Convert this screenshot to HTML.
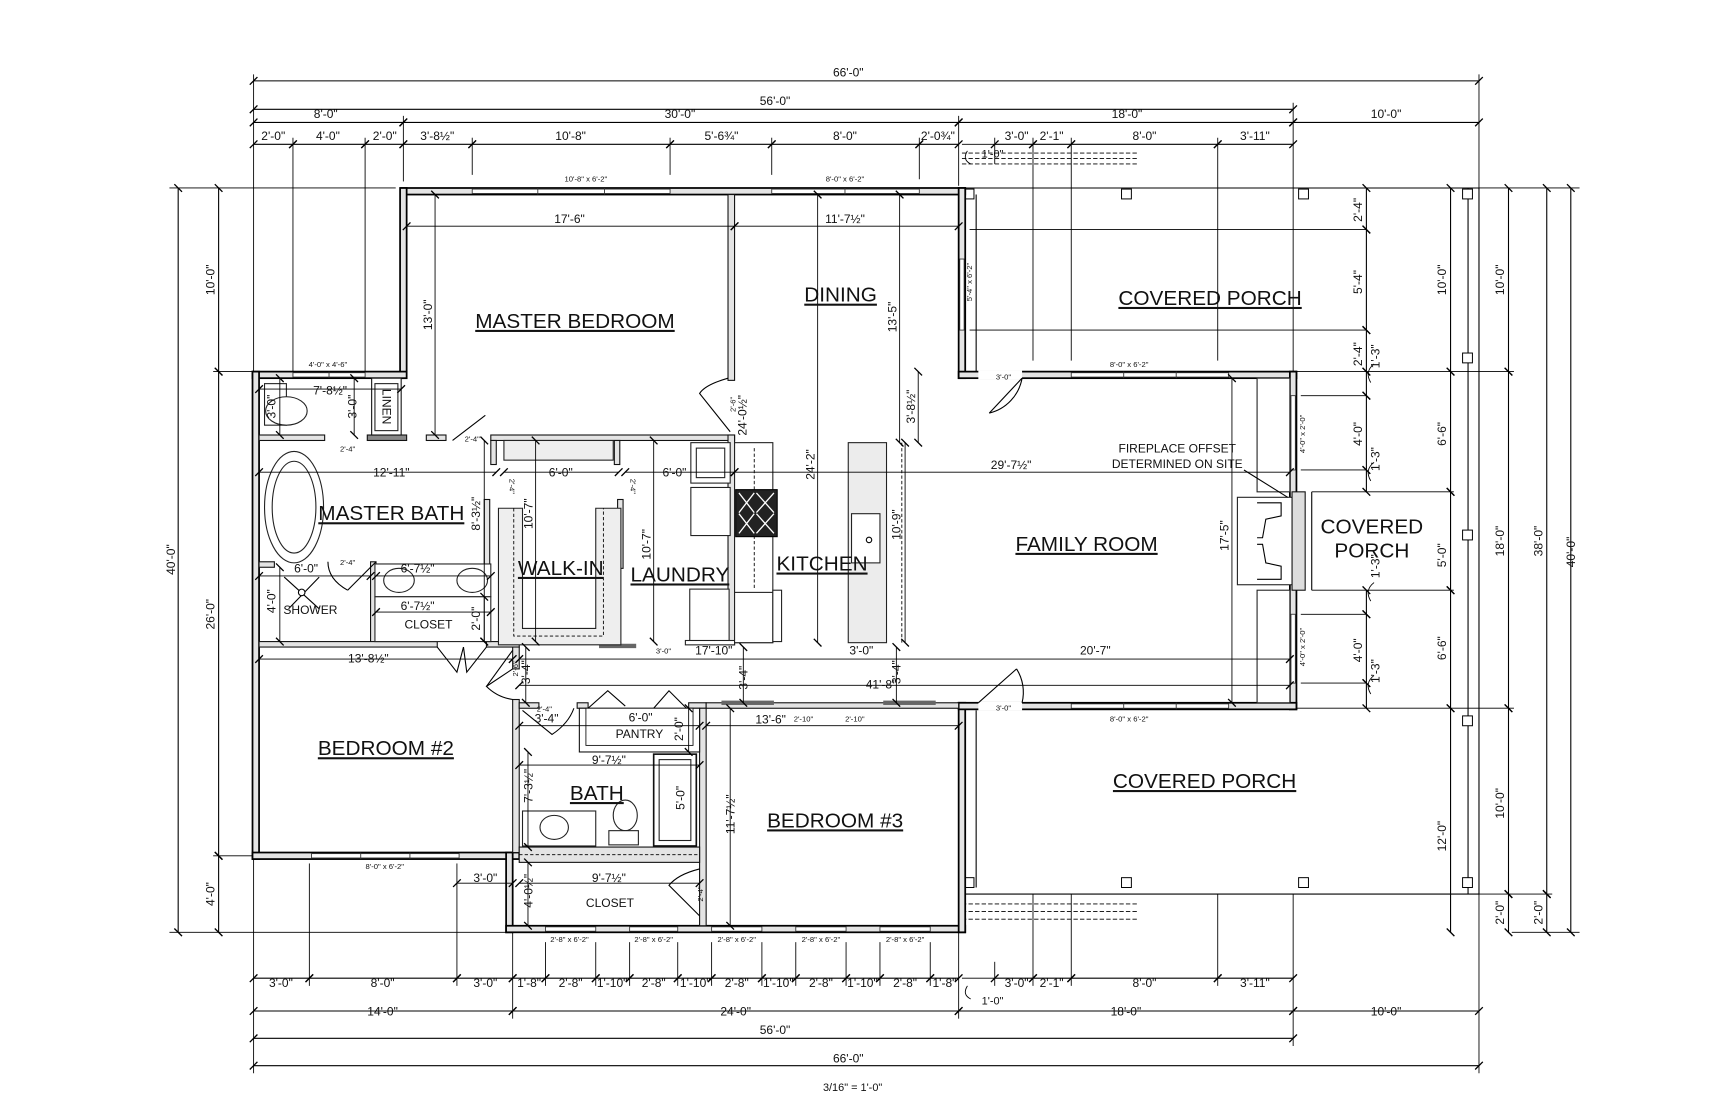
<!DOCTYPE html>
<html><head><meta charset="utf-8">
<style>
html,body{margin:0;padding:0;background:#fff;}
svg{display:block}
text{font-family:"Liberation Sans",Arial,sans-serif;fill:#111}
.d{stroke:#000;stroke-width:1;fill:none}
.e{stroke:#000;stroke-width:.8;fill:none}
.w{fill:#e4e4e4;stroke:#111;stroke-width:1}
.x{fill:#e4e4e4;stroke:#000;stroke-width:1.6}
.win{fill:#fff;stroke:#333;stroke-width:.8}
.t{font-size:11px;text-anchor:middle}
.s{font-size:7px;text-anchor:middle}
.r{font-size:19px;text-anchor:middle;text-decoration:underline}
.thin{stroke:#000;stroke-width:1;fill:none}
.fx{fill:#fff;stroke:#222;stroke-width:1}
</style></head><body>
<svg width="1714" height="1105" viewBox="0 0 1568 1011" preserveAspectRatio="none" xmlns="http://www.w3.org/2000/svg">
<defs>
<marker id="k" markerWidth="10" markerHeight="10" refX="5" refY="5" orient="auto" markerUnits="userSpaceOnUse"><path d="M1.5,8.5 L8.5,1.5" stroke="#000" stroke-width="1.2"/></marker>
</defs>
<rect width="1568" height="1011" fill="#fff"/>

<!-- ===== TOP DIMENSIONS ===== -->
<g class="d" marker-start="url(#k)" marker-end="url(#k)">
<line x1="232" y1="74" x2="1353" y2="74"/>
<line x1="232" y1="100" x2="1183" y2="100"/>
<line x1="232" y1="112" x2="369" y2="112"/><line x1="369" y1="112" x2="877" y2="112"/><line x1="877" y1="112" x2="1183" y2="112"/><line x1="1183" y1="112" x2="1353" y2="112"/>
<line x1="232" y1="132" x2="268" y2="132"/><line x1="268" y1="132" x2="334" y2="132"/><line x1="334" y1="132" x2="369" y2="132"/><line x1="369" y1="132" x2="432" y2="132"/><line x1="432" y1="132" x2="613" y2="132"/><line x1="613" y1="132" x2="706" y2="132"/><line x1="706" y1="132" x2="841" y2="132"/><line x1="841" y1="132" x2="877" y2="132"/><line x1="910" y1="132" x2="945" y2="132"/><line x1="945" y1="132" x2="980" y2="132"/><line x1="980" y1="132" x2="1114" y2="132"/><line x1="1114" y1="132" x2="1183" y2="132"/>
</g>
<g class="e">
<line x1="232" y1="68" x2="232" y2="340"/><line x1="1353" y1="68" x2="1353" y2="172"/><line x1="1183" y1="94" x2="1183" y2="340"/>
<line x1="369" y1="106" x2="369" y2="166"/><line x1="877" y1="106" x2="877" y2="170"/>
<line x1="268" y1="126" x2="268" y2="340"/><line x1="334" y1="126" x2="334" y2="340"/><line x1="432" y1="126" x2="432" y2="160"/><line x1="613" y1="126" x2="613" y2="160"/><line x1="706" y1="126" x2="706" y2="160"/><line x1="841" y1="126" x2="841" y2="164"/>
<line x1="910" y1="126" x2="910" y2="150"/><line x1="945" y1="126" x2="945" y2="330"/><line x1="980" y1="126" x2="980" y2="330"/><line x1="1114" y1="126" x2="1114" y2="330"/>
<line x1="880" y1="132" x2="910" y2="132"/>
</g>
<text class="t" x="776" y="70">66'-0"</text>
<text class="t" x="709" y="96">56'-0"</text>
<text class="t" x="298" y="108">8'-0"</text><text class="t" x="622" y="108">30'-0"</text><text class="t" x="1031" y="108">18'-0"</text><text class="t" x="1268" y="108">10'-0"</text>
<g class="t">
<text x="250" y="128">2'-0"</text><text x="300" y="128">4'-0"</text><text x="352" y="128">2'-0"</text><text x="400" y="128">3'-8½"</text><text x="522" y="128">10'-8"</text><text x="660" y="128">5'-6¾"</text><text x="773" y="128">8'-0"</text><text x="858" y="128">2'-0¾"</text><text x="930" y="128">3'-0"</text><text x="962" y="128">2'-1"</text><text x="1047" y="128">8'-0"</text><text x="1148" y="128">3'-11"</text>
<text x="908" y="144" style="font-size:10px">1'-0"</text>
</g>
<path class="e" d="M885,138 Q880,146 888,150"/>
<g class="e" stroke-dasharray="4,2"><line x1="880" y1="140" x2="1040" y2="140"/><line x1="880" y1="145" x2="1040" y2="145"/><line x1="880" y1="150" x2="1040" y2="150"/></g>

<!-- ===== LEFT DIMENSIONS ===== -->
<g class="d" marker-start="url(#k)" marker-end="url(#k)">
<line x1="163" y1="172" x2="163" y2="853"/>
<line x1="200" y1="172" x2="200" y2="340"/><line x1="200" y1="340" x2="200" y2="783"/><line x1="200" y1="783" x2="200" y2="853"/>
</g>
<g class="e"><line x1="155" y1="172" x2="362" y2="172"/><line x1="195" y1="340" x2="232" y2="340"/><line x1="195" y1="783" x2="232" y2="783"/><line x1="155" y1="853" x2="463" y2="853"/></g>
<g class="t">
<text transform="translate(160,512) rotate(-90)">40'-0"</text>
<text transform="translate(196,256) rotate(-90)">10'-0"</text>
<text transform="translate(196,562) rotate(-90)">26'-0"</text>
<text transform="translate(196,818) rotate(-90)">4'-0"</text>
</g>

<!-- ===== RIGHT DIMENSIONS ===== -->
<g class="d" marker-start="url(#k)" marker-end="url(#k)">
<line x1="1250" y1="172" x2="1250" y2="210"/><line x1="1250" y1="210" x2="1250" y2="302"/><line x1="1250" y1="302" x2="1250" y2="340"/>
<line x1="1250" y1="340" x2="1250" y2="362"/><line x1="1250" y1="362" x2="1250" y2="430"/><line x1="1250" y1="430" x2="1250" y2="450"/>
<line x1="1250" y1="540" x2="1250" y2="562"/><line x1="1250" y1="562" x2="1250" y2="625"/><line x1="1250" y1="625" x2="1250" y2="648"/>
<line x1="1327" y1="172" x2="1327" y2="340"/><line x1="1327" y1="340" x2="1327" y2="450"/><line x1="1327" y1="450" x2="1327" y2="540"/><line x1="1327" y1="540" x2="1327" y2="648"/><line x1="1327" y1="648" x2="1327" y2="853"/>
<line x1="1380" y1="172" x2="1380" y2="340"/><line x1="1380" y1="340" x2="1380" y2="648"/><line x1="1380" y1="648" x2="1380" y2="818"/><line x1="1380" y1="818" x2="1380" y2="853"/>
<line x1="1415" y1="172" x2="1415" y2="818"/><line x1="1415" y1="818" x2="1415" y2="853"/>
<line x1="1437" y1="172" x2="1437" y2="853"/>
</g>
<g class="e">
<line x1="1353" y1="172" x2="1445" y2="172"/><line x1="887" y1="210" x2="1250" y2="210"/><line x1="887" y1="302" x2="1250" y2="302"/>
<line x1="1186" y1="340" x2="1385" y2="340"/><line x1="1190" y1="362" x2="1250" y2="362"/><line x1="1190" y1="430" x2="1250" y2="430"/>
<line x1="1200" y1="450" x2="1330" y2="450"/><line x1="1200" y1="540" x2="1330" y2="540"/>
<line x1="1190" y1="562" x2="1250" y2="562"/><line x1="1190" y1="625" x2="1250" y2="625"/>
<line x1="1186" y1="648" x2="1385" y2="648"/><line x1="1353" y1="818" x2="1420" y2="818"/><line x1="1383" y1="853" x2="1445" y2="853"/>
</g>
<g class="e"><path d="M1257,333 Q1248,340 1254,350"/><path d="M1257,423 Q1248,430 1254,440"/><path d="M1257,533 Q1248,540 1254,550"/><path d="M1257,618 Q1248,625 1254,635"/></g>
<g class="t">
<text transform="translate(1246,192) rotate(-90)">2'-4"</text><text transform="translate(1246,258) rotate(-90)">5'-4"</text><text transform="translate(1246,324) rotate(-90)">2'-4"</text>
<text transform="translate(1262,326) rotate(-90)">1'-3"</text><text transform="translate(1246,397) rotate(-90)">4'-0"</text><text transform="translate(1262,420) rotate(-90)">1'-3"</text>
<text transform="translate(1262,518) rotate(-90)">1'-3"</text><text transform="translate(1246,595) rotate(-90)">4'-0"</text><text transform="translate(1262,614) rotate(-90)">1'-3"</text>
<text transform="translate(1323,256) rotate(-90)">10'-0"</text><text transform="translate(1323,397) rotate(-90)">6'-6"</text><text transform="translate(1323,508) rotate(-90)">5'-0"</text><text transform="translate(1323,593) rotate(-90)">6'-6"</text><text transform="translate(1323,765) rotate(-90)">12'-0"</text>
<text transform="translate(1376,256) rotate(-90)">10'-0"</text><text transform="translate(1376,495) rotate(-90)">18'-0"</text><text transform="translate(1376,735) rotate(-90)">10'-0"</text><text transform="translate(1376,835) rotate(-90)">2'-0"</text>
<text transform="translate(1411,495) rotate(-90)">38'-0"</text><text transform="translate(1411,835) rotate(-90)">2'-0"</text>
<text transform="translate(1441,505) rotate(-90)">40'-0"</text>
</g>

<!-- ===== BOTTOM DIMENSIONS ===== -->
<g class="d" marker-start="url(#k)" marker-end="url(#k)">
<line x1="232" y1="895" x2="283" y2="895"/><line x1="283" y1="895" x2="418" y2="895"/><line x1="418" y1="895" x2="469" y2="895"/><line x1="469" y1="895" x2="499" y2="895"/><line x1="499" y1="895" x2="545" y2="895"/><line x1="545" y1="895" x2="576" y2="895"/><line x1="576" y1="895" x2="620" y2="895"/><line x1="620" y1="895" x2="651" y2="895"/><line x1="651" y1="895" x2="697" y2="895"/><line x1="697" y1="895" x2="728" y2="895"/><line x1="728" y1="895" x2="774" y2="895"/><line x1="774" y1="895" x2="805" y2="895"/><line x1="805" y1="895" x2="851" y2="895"/><line x1="851" y1="895" x2="877" y2="895"/>
<line x1="910" y1="895" x2="945" y2="895"/><line x1="945" y1="895" x2="980" y2="895"/><line x1="980" y1="895" x2="1114" y2="895"/><line x1="1114" y1="895" x2="1183" y2="895"/>
<line x1="232" y1="925" x2="469" y2="925"/><line x1="469" y1="925" x2="877" y2="925"/><line x1="877" y1="925" x2="1183" y2="925"/><line x1="1183" y1="925" x2="1353" y2="925"/>
<line x1="232" y1="950" x2="1183" y2="950"/><line x1="232" y1="975" x2="1353" y2="975"/>
</g>
<g class="e">
<line x1="232" y1="786" x2="232" y2="982"/><line x1="283" y1="790" x2="283" y2="902"/><line x1="418" y1="790" x2="418" y2="902"/><line x1="469" y1="853" x2="469" y2="932"/><line x1="877" y1="853" x2="877" y2="932"/><line x1="1183" y1="818" x2="1183" y2="957"/><line x1="1353" y1="818" x2="1353" y2="982"/>
<line x1="499" y1="862" x2="499" y2="902"/><line x1="545" y1="862" x2="545" y2="902"/><line x1="576" y1="862" x2="576" y2="902"/><line x1="620" y1="862" x2="620" y2="902"/><line x1="651" y1="862" x2="651" y2="902"/><line x1="697" y1="862" x2="697" y2="902"/><line x1="728" y1="862" x2="728" y2="902"/><line x1="774" y1="862" x2="774" y2="902"/><line x1="805" y1="862" x2="805" y2="902"/><line x1="851" y1="862" x2="851" y2="902"/>
<line x1="910" y1="880" x2="910" y2="902"/><line x1="945" y1="818" x2="945" y2="902"/><line x1="980" y1="818" x2="980" y2="902"/><line x1="1114" y1="818" x2="1114" y2="902"/>
<line x1="880" y1="895" x2="910" y2="895"/>
</g>
<path class="e" d="M885,902 Q880,910 888,914"/>
<g class="e" stroke-dasharray="4,2"><line x1="880" y1="827" x2="1040" y2="827"/><line x1="880" y1="834" x2="1040" y2="834"/><line x1="880" y1="841" x2="1040" y2="841"/></g>
<g class="t">
<text x="257" y="903">3'-0"</text><text x="350" y="903">8'-0"</text><text x="444" y="903">3'-0"</text><text x="484" y="903">1'-8"</text><text x="522" y="903">2'-8"</text><text x="560" y="903">1'-10"</text><text x="598" y="903">2'-8"</text><text x="636" y="903">1'-10"</text><text x="674" y="903">2'-8"</text><text x="712" y="903">1'-10"</text><text x="751" y="903">2'-8"</text><text x="789" y="903">1'-10"</text><text x="828" y="903">2'-8"</text><text x="864" y="903">1'-8"</text>
<text x="930" y="903">3'-0"</text><text x="962" y="903">2'-1"</text><text x="1047" y="903">8'-0"</text><text x="1148" y="903">3'-11"</text>
<text x="908" y="919" style="font-size:10px">1'-0"</text>
<text x="350" y="929">14'-0"</text><text x="673" y="929">24'-0"</text><text x="1030" y="929">18'-0"</text><text x="1268" y="929">10'-0"</text>
<text x="709" y="946">56'-0"</text><text x="776" y="972">66'-0"</text>
<text x="780" y="998" style="font-size:10px">3/16" = 1'-0"</text>
</g>

<!-- ===== PORCHES ===== -->
<g class="thin">
<line x1="883" y1="172" x2="1353" y2="172"/><line x1="1343" y1="172" x2="1343" y2="818"/><line x1="1353" y1="172" x2="1353" y2="818"/>
<line x1="883" y1="818" x2="1353" y2="818"/>
<line x1="893" y1="178" x2="893" y2="340"/><line x1="893" y1="650" x2="893" y2="812"/>
<line x1="1200" y1="450" x2="1200" y2="540"/>
</g>
<g fill="#fff" stroke="#000" stroke-width=".9">
<rect x="882" y="173" width="9" height="9"/><rect x="1026" y="173" width="9" height="9"/><rect x="1188" y="173" width="9" height="9"/><rect x="1338" y="173" width="9" height="9"/>
<rect x="1338" y="323" width="9" height="9"/><rect x="1338" y="485" width="9" height="9"/><rect x="1338" y="655" width="9" height="9"/>
<rect x="1338" y="803" width="9" height="9"/><rect x="1188" y="803" width="9" height="9"/><rect x="1026" y="803" width="9" height="9"/><rect x="882" y="803" width="9" height="9"/>
</g>

<!-- ===== EXTERIOR WALLS ===== -->
<g class="x">
<rect x="367" y="172" width="516" height="6"/>
<rect x="366" y="172" width="6" height="174"/>
<rect x="231" y="340" width="141" height="6"/>
<rect x="231" y="340" width="6" height="446"/>
<rect x="231" y="780" width="244" height="6"/>
<rect x="463" y="780" width="6" height="73"/>
<rect x="463" y="847" width="420" height="6"/>
<rect x="877" y="643" width="6" height="210"/>
<rect x="877" y="172" width="6" height="174"/>
<rect x="877" y="340" width="309" height="6"/>
<rect x="1180" y="340" width="6" height="309"/>
<rect x="877" y="643" width="309" height="6"/>
</g>
<g class="win">
<rect x="432" y="173" width="181" height="4"/><rect x="706" y="173" width="135" height="4"/>
<rect x="268" y="341" width="66" height="4"/>
<rect x="285" y="781" width="135" height="4"/>
<rect x="499" y="848" width="46" height="4"/><rect x="576" y="848" width="44" height="4"/><rect x="651" y="848" width="46" height="4"/><rect x="728" y="848" width="46" height="4"/><rect x="805" y="848" width="46" height="4"/>
<rect x="878" y="237" width="4" height="65"/>
<rect x="980" y="341" width="144" height="4"/><rect x="980" y="644" width="144" height="4"/>
<rect x="1181" y="362" width="4" height="68"/><rect x="1181" y="562" width="4" height="63"/>
</g>
<g stroke="#333" stroke-width=".8"><line x1="492" y1="172" x2="492" y2="178"/><line x1="553" y1="172" x2="553" y2="178"/><line x1="773" y1="172" x2="773" y2="178"/><line x1="301" y1="340" x2="301" y2="346"/><line x1="330" y1="780" x2="330" y2="786"/><line x1="375" y1="780" x2="375" y2="786"/><line x1="1028" y1="340" x2="1028" y2="346"/><line x1="1076" y1="340" x2="1076" y2="346"/><line x1="1028" y1="643" x2="1028" y2="649"/><line x1="1076" y1="643" x2="1076" y2="649"/></g>
<rect x="895" y="339" width="40" height="8" fill="#fff"/><rect x="895" y="642" width="40" height="8" fill="#fff"/>
<g class="thin"><path d="M935,346 L905,378"/><path d="M905,378 A40,40 0 0 0 935,346" /><path d="M895,643 L930,612"/><path d="M930,612 A40,40 0 0 1 935,643"/></g>
<g class="s">
<text x="536" y="166">10'-8" x 6'-2"</text><text x="773" y="166">8'-0" x 6'-2"</text><text x="300" y="336">4'-0" x 4'-6"</text><text x="352" y="795">8'-0" x 6'-2"</text>
<text x="521" y="862">2'-8" x 6'-2"</text><text x="598" y="862">2'-8" x 6'-2"</text><text x="674" y="862">2'-8" x 6'-2"</text><text x="751" y="862">2'-8" x 6'-2"</text><text x="828" y="862">2'-8" x 6'-2"</text>
<text x="1033" y="336">8'-0" x 6'-2"</text><text x="1033" y="660">8'-0" x 6'-2"</text>
<text x="918" y="347">3'-0"</text><text x="918" y="650">3'-0"</text>
<text transform="translate(889,258) rotate(-90)">5'-4" x 6'-2"</text>
<text transform="translate(1194,397) rotate(-90)">4'-0" x 2'-0"</text>
<text transform="translate(1194,592) rotate(-90)">4'-0" x 2'-0"</text>
</g>

<!-- ===== INTERIOR WALLS ===== -->
<g class="w">
<rect x="666" y="178" width="6" height="170"/>
<rect x="237" y="398" width="60" height="5"/>
<rect x="336" y="398" width="36" height="5" fill="#888"/>
<rect x="390" y="398" width="18" height="5"/>
<rect x="449" y="398" width="223" height="5"/>
<rect x="666" y="398" width="6" height="192"/>
<rect x="340" y="346" width="27" height="52" fill="#fff"/>
<rect x="237" y="514" width="14" height="5"/>
<rect x="339" y="514" width="5" height="76"/>
<rect x="449" y="403" width="5" height="22"/>
<rect x="562" y="403" width="5" height="22"/>
<rect x="443" y="457" width="5" height="63"/>
<rect x="565" y="457" width="5" height="63"/>
<rect x="237" y="587" width="163" height="5"/>
<rect x="445" y="587" width="30" height="5"/>
<rect x="469" y="592" width="6" height="20"/>
<rect x="469" y="640" width="6" height="140"/>
<rect x="475" y="643" width="18" height="5"/>
<rect x="528" y="643" width="10" height="5"/>
<rect x="630" y="643" width="16" height="5"/>
<rect x="646" y="643" width="231" height="5"/>
<rect x="640" y="648" width="6" height="199"/>
<rect x="475" y="775" width="165" height="14"/>
</g>
<rect x="660" y="641" width="48" height="4" fill="#666"/><rect x="808" y="641" width="48" height="4" fill="#666"/>
<rect x="548" y="589" width="34" height="4" fill="#666"/>
<rect x="530" y="648" width="110" height="40" fill="#fff" stroke="#111" stroke-width="1"/>
<rect x="536" y="648" width="98" height="34" fill="#fff" stroke="#111" stroke-width=".8"/>
<g class="thin"><path d="M538,648 L556,632 L572,646"/><path d="M598,648 L612,632 L628,648"/></g>
<line class="e" stroke-dasharray="3,2" x1="475" y1="782" x2="640" y2="782"/>

<rect x="242" y="351" width="20" height="38" fill="#fff" stroke="#222"/>
<ellipse cx="262" cy="376" rx="19" ry="13" fill="#fff" stroke="#222"/>
<rect x="343" y="351" width="21" height="43" fill="#fff" stroke="#222"/>
<text transform="translate(350,372) rotate(90)" style="font-size:11px;text-anchor:middle">LINEN</text>
<ellipse cx="269" cy="464" rx="27" ry="51" fill="#fff" stroke="#222"/>
<ellipse cx="269" cy="464" rx="20" ry="42" fill="#fff" stroke="#222"/>
<rect x="343" y="516" width="106" height="30" fill="#fff" stroke="#222"/>
<ellipse cx="365" cy="531" rx="14" ry="11" fill="#fff" stroke="#222"/><ellipse cx="432" cy="531" rx="14" ry="11" fill="#fff" stroke="#222"/>
<rect x="343" y="546" width="106" height="41" fill="#fff" stroke="#222"/>
<g class="thin"><line x1="260" y1="528" x2="292" y2="557"/><line x1="292" y1="528" x2="264" y2="557"/></g>
<circle cx="276" cy="542" r="3" fill="#fff" stroke="#000"/>
<g class="thin"><path d="M400,592 L418,615 L424,592"/><path d="M445,592 L427,615 L424,592"/><path d="M344,514 L318,540"/><path d="M318,540 Q300,530 300,514"/><path d="M414,403 L444,380"/></g>
<rect x="461" y="403" width="100" height="18" fill="#eee" stroke="#222"/>
<path d="M456,465 L456,590 L568,590 L568,465 L545,465 L545,575 L478,575 L478,465 Z" fill="#eee" stroke="#222"/>
<path class="e" stroke-dasharray="3,2" d="M470,465 L470,582 L552,582 L552,465"/>
<rect x="632" y="405" width="36" height="37" fill="#fff" stroke="#222"/><rect x="637" y="410" width="26" height="27" fill="#fff" stroke="#222"/>
<rect x="632" y="446" width="36" height="44" fill="#fff" stroke="#222"/>
<rect x="631" y="539" width="36" height="49" fill="#fff" stroke="#222"/>
<rect x="627" y="586" width="45" height="4" fill="#fff" stroke="#222"/>
<rect x="672" y="405" width="35" height="183" fill="#fff" stroke="#222"/>
<line class="e" stroke-dasharray="3,2" x1="690" y1="410" x2="690" y2="540"/>
<rect x="672" y="542" width="35" height="46" fill="#fff" stroke="#222"/><rect x="707" y="540" width="8" height="47" fill="#fff" stroke="#222"/>
<rect x="673" y="448" width="38" height="43" fill="#222" stroke="#000"/>
<g stroke="#fff" stroke-width="1.2" fill="none"><path d="M676,451 L690,469 M690,451 L676,469 M692,451 L708,469 M708,451 L692,469 M676,470 L690,488 M690,470 L676,488 M692,470 L708,488 M708,470 L692,488"/></g>
<rect x="776" y="405" width="35" height="183" fill="#ececec" stroke="#222"/>
<line class="e" stroke-dasharray="3,2" x1="825" y1="405" x2="825" y2="588"/>
<rect x="779" y="470" width="26" height="45" fill="#fff" stroke="#222"/>
<circle cx="795" cy="494" r="2.5" fill="#fff" stroke="#000"/>
<g class="thin">
<path d="M666,346 Q645,352 640,360 L668,395"/>
<path d="M469,612 L445,628 Q455,638 469,640"/><path d="M469,595 L445,628"/>
<path d="M478,650 L505,672 Q520,662 525,648"/>
<path d="M640,795 Q620,800 612,810 L640,838"/>
</g>
<rect x="598" y="690" width="39" height="84" fill="#fff" stroke="#111" stroke-width="1.5"/><rect x="603" y="695" width="29" height="74" fill="#fff" stroke="#222"/>
<rect x="478" y="742" width="67" height="32" fill="#fff" stroke="#222"/>
<ellipse cx="507" cy="757" rx="13" ry="11" fill="#fff" stroke="#222"/>
<ellipse cx="572" cy="746" rx="11" ry="14" fill="#fff" stroke="#222"/><rect x="557" y="760" width="27" height="13" fill="#fff" stroke="#222"/>
<rect x="1150" y="346" width="30" height="104" fill="#fff" stroke="#222"/>
<rect x="1150" y="540" width="30" height="103" fill="#fff" stroke="#222"/>
<rect x="1132" y="455" width="50" height="80" fill="#fff" stroke="#222"/>
<rect x="1182" y="450" width="12" height="90" fill="#ddd" stroke="#111"/>
<path class="thin" d="M1150,460 L1172,460 L1172,472 L1158,475 L1155,492 L1150,492 M1150,530 L1172,530 L1172,518 L1158,515 L1155,498 L1150,498"/>
<line class="thin" x1="1138" y1="430" x2="1178" y2="455"/>

<!-- ===== INTERIOR DIMENSIONS ===== -->
<g class="e" marker-start="url(#k)" marker-end="url(#k)">
<line x1="372" y1="207" x2="672" y2="207"/><line x1="672" y1="207" x2="877" y2="207"/>
<line x1="398" y1="178" x2="398" y2="398"/>
<line x1="748" y1="178" x2="748" y2="588"/>
<line x1="823" y1="178" x2="823" y2="405"/>
<line x1="840" y1="340" x2="840" y2="405"/>
<line x1="237" y1="356" x2="367" y2="356"/>
<line x1="324" y1="346" x2="324" y2="398"/><line x1="256" y1="346" x2="256" y2="398"/>
<line x1="237" y1="432" x2="454" y2="432"/><line x1="461" y1="432" x2="566" y2="432"/><line x1="572" y1="432" x2="672" y2="432"/><line x1="672" y1="432" x2="1180" y2="432"/>
<line x1="443" y1="403" x2="443" y2="587"/>
<line x1="490" y1="403" x2="490" y2="587"/><line x1="598" y1="403" x2="598" y2="587"/>
<line x1="828" y1="405" x2="828" y2="588"/>
<line x1="1127" y1="346" x2="1127" y2="643"/>
<line x1="237" y1="527" x2="339" y2="527"/><line x1="344" y1="527" x2="449" y2="527"/><line x1="344" y1="560" x2="449" y2="560"/>
<line x1="256" y1="519" x2="256" y2="587"/><line x1="443" y1="546" x2="443" y2="587"/>
<line x1="237" y1="603" x2="469" y2="603"/>
<line x1="475" y1="603" x2="1180" y2="603"/>
<line x1="475" y1="627" x2="1180" y2="627"/>
<line x1="680" y1="592" x2="680" y2="643"/><line x1="481" y1="592" x2="481" y2="643"/><line x1="820" y1="592" x2="820" y2="643"/>
<line x1="475" y1="664" x2="640" y2="664"/><line x1="646" y1="664" x2="877" y2="664"/>
<line x1="630" y1="648" x2="630" y2="688"/>
<line x1="475" y1="700" x2="640" y2="700"/>
<line x1="483" y1="688" x2="483" y2="775"/><line x1="668" y1="648" x2="668" y2="847"/>
<line x1="418" y1="808" x2="469" y2="808"/><line x1="475" y1="808" x2="640" y2="808"/>
<line x1="483" y1="789" x2="483" y2="847"/>
</g>
<g class="t">
<text x="521" y="204">17'-6"</text><text x="773" y="204">11'-7½"</text>
<text transform="translate(395,288) rotate(-90)">13'-0"</text>
<text transform="translate(745,425) rotate(-90)">24'-2"</text>
<text transform="translate(820,290) rotate(-90)">13'-5"</text>
<text transform="translate(837,372) rotate(-90)">3'-8½"</text>
<text transform="translate(683,380) rotate(-90)">24'-0½"</text>
<text x="302" y="361">7'-8½"</text>
<text transform="translate(326,372) rotate(-90)">3'-0"</text><text transform="translate(252,372) rotate(-90)">3'-0"</text>
<text x="358" y="436">12'-11"</text><text x="513" y="436">6'-0"</text><text x="617" y="436">6'-0"</text><text x="925" y="429">29'-7½"</text>
<text transform="translate(439,470) rotate(-90)">8'-3½"</text>
<text transform="translate(487,470) rotate(-90)">10'-7"</text><text transform="translate(595,498) rotate(-90)">10'-7"</text>
<text transform="translate(824,480) rotate(-90)">10'-9"</text><text transform="translate(1124,490) rotate(-90)">17'-5"</text>
<text x="280" y="524">6'-0"</text><text x="382" y="524">6'-7½"</text><text x="382" y="558">6'-7½"</text>
<text transform="translate(439,566) rotate(-90)">2'-0"</text><text transform="translate(252,550) rotate(-90)">4'-0"</text>
<text x="392" y="575">CLOSET</text><text x="284" y="562">SHOWER</text>
<text x="337" y="606">13'-8½"</text><text x="653" y="599">17'-10"</text><text x="788" y="599">3'-0"</text><text x="1002" y="599">20'-7"</text>
<text x="806" y="630">41'-8"</text>
<text transform="translate(684,620) rotate(-90)">3'-4"</text><text transform="translate(485,615) rotate(-90)">3'-4"</text><text transform="translate(824,615) rotate(-90)">3'-4"</text>
<text x="500" y="661">3'-4"</text><text x="586" y="660">6'-0"</text><text x="705" y="662">13'-6"</text>
<text x="585" y="675">PANTRY</text><text transform="translate(625,667) rotate(-90)">2'-0"</text>
<text x="557" y="699">9'-7½"</text>
<text transform="translate(487,719) rotate(-90)">7'-3½"</text><text transform="translate(626,730) rotate(-90)">5'-0"</text><text transform="translate(672,745) rotate(-90)">11'-7½"</text>
<text x="444" y="807">3'-0"</text><text x="557" y="807">9'-7½"</text><text transform="translate(487,815) rotate(-90)">4'-0½"</text>
<text x="558" y="830">CLOSET</text>
<text x="1077" y="414">FIREPLACE OFFSET</text><text x="1077" y="428">DETERMINED ON SITE</text>
</g>
<g class="s">
<text x="318" y="413">2'-4"</text><text x="432" y="404">2'-4"</text><text x="318" y="517">2'-4"</text>
<text x="607" y="598">3'-0"</text><text x="735" y="660">2'-10"</text><text x="782" y="660">2'-10"</text><text x="498" y="651">2'-4"</text>
<text transform="translate(466,445) rotate(90)">2'-4"</text><text transform="translate(577,445) rotate(90)">2'-4"</text>
<text transform="translate(673,370) rotate(-90)">2'-6"</text><text transform="translate(474,612) rotate(-90)">2'-6"</text>
<text transform="translate(643,818) rotate(-90)">2'-4"</text>
</g>

<text class="r" x="526" y="300">MASTER BEDROOM</text>
<text class="r" x="769" y="276">DINING</text>
<text class="r" x="1107" y="279">COVERED PORCH</text>
<text class="r" x="358" y="476">MASTER BATH</text>
<text class="r" x="513" y="526">WALK-IN</text>
<text class="r" x="622" y="532">LAUNDRY</text>
<text class="r" x="752" y="522">KITCHEN</text>
<text class="r" x="994" y="504">FAMILY ROOM</text>
<text x="1255" y="488" style="font-size:19px;text-anchor:middle">COVERED</text>
<text x="1255" y="510" style="font-size:19px;text-anchor:middle">PORCH</text>
<text class="r" x="353" y="691">BEDROOM #2</text>
<text class="r" x="546" y="732">BATH</text>
<text class="r" x="764" y="757">BEDROOM #3</text>
<text class="r" x="1102" y="721">COVERED PORCH</text>
</svg>
</body></html>
